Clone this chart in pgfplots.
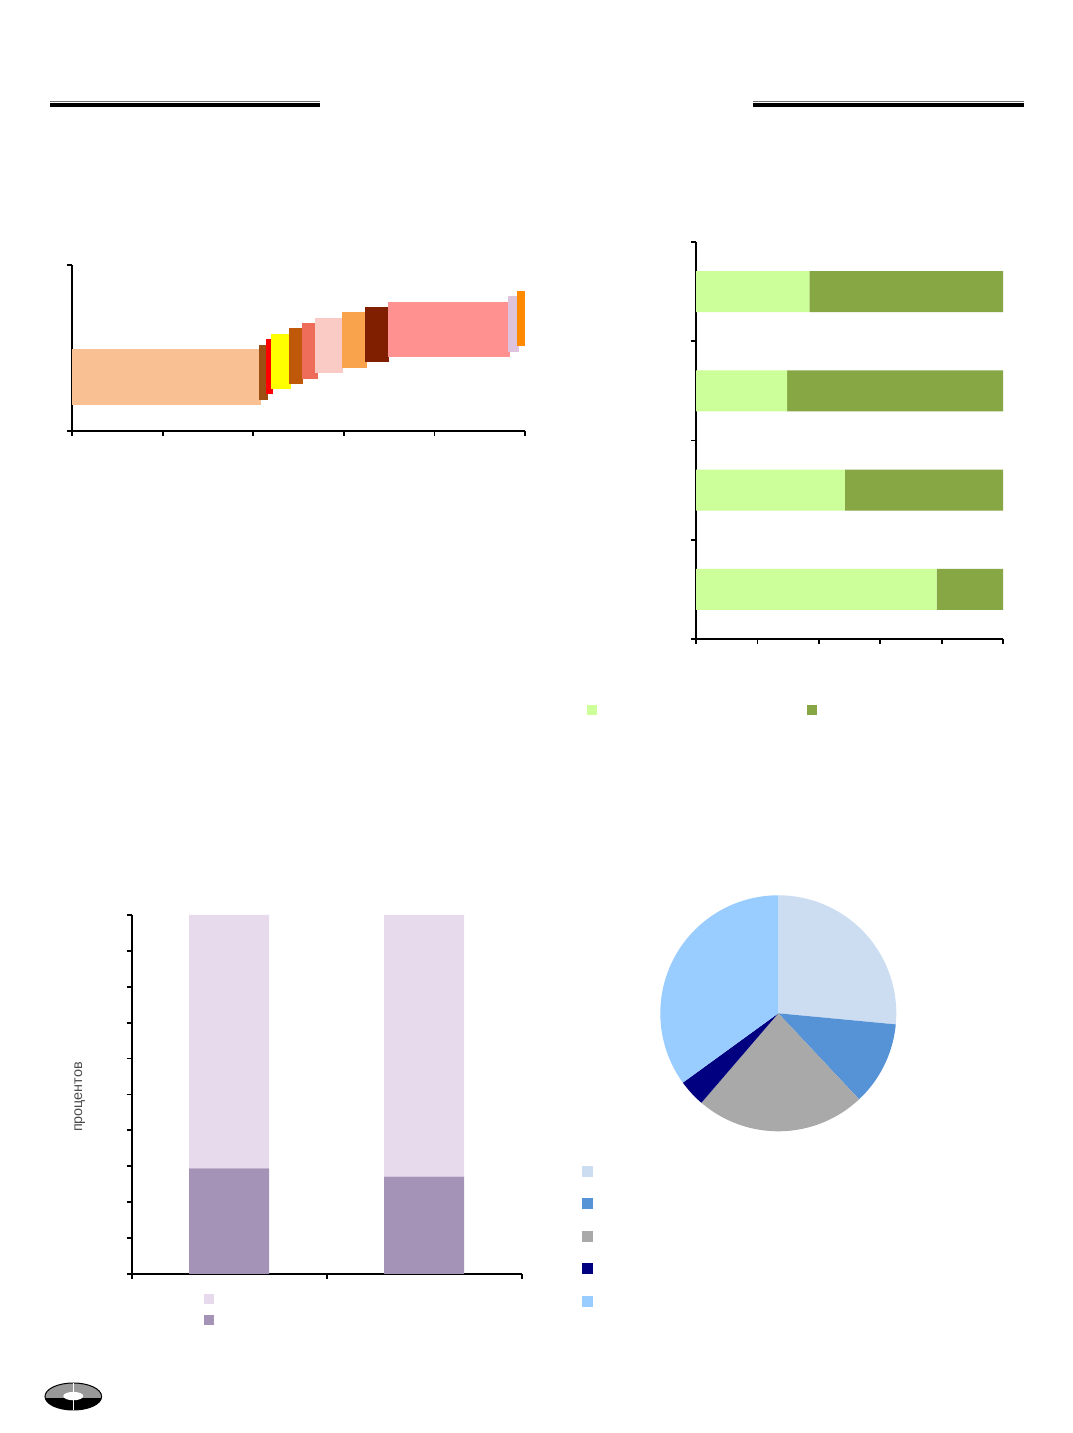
\documentclass[border=0pt]{standalone}
\usepackage{fontspec}
\setmainfont{Liberation Sans}
\usepackage{pgfplots}
\pgfplotsset{compat=1.18}
\definecolor{cA}{HTML}{F9C193}
\definecolor{cB}{HTML}{9C4F12}
\definecolor{cC}{HTML}{FF0000}
\definecolor{cD}{HTML}{FFFF00}
\definecolor{cE}{HTML}{C0580A}
\definecolor{cF}{HTML}{EE6D5A}
\definecolor{cG}{HTML}{FACBC5}
\definecolor{cH}{HTML}{F9A44C}
\definecolor{cI}{HTML}{7F1F00}
\definecolor{cJ}{HTML}{FF9191}
\definecolor{cK}{HTML}{DDC4DC}
\definecolor{cL}{HTML}{FF8A00}
\definecolor{gLight}{HTML}{CCFF99}
\definecolor{gDark}{HTML}{86A744}
\definecolor{pLight}{HTML}{E6DAEC}
\definecolor{pDark}{HTML}{A492B7}
\definecolor{pieA}{HTML}{CCDDF2}
\definecolor{pieB}{HTML}{5592D6}
\definecolor{pieC}{HTML}{A9A9A9}
\definecolor{pieD}{HTML}{000080}
\definecolor{pieE}{HTML}{99CCFF}
\pgfplotsset{
  myaxis/.style={
    scale only axis,
    axis x line*=bottom, axis y line*=left,
    axis line style={line width=1pt, black},
    tick align=outside, major tick length=2.6pt,
    every tick/.style={black, line width=0.9pt},
    xticklabels={}, yticklabels={},
    enlargelimits=false,
  }
}
\begin{document}
\begin{tikzpicture}
\useasboundingbox (0,0) rectangle (536pt,716.5pt);
\fill[white] (0,0) rectangle (536pt,716.5pt);
% header rules
\draw[black!55, line width=0.6pt] (25pt,665.9pt) -- (160pt,665.9pt);
\draw[black, line width=1.6pt] (25pt,664pt) -- (160pt,664pt);
\draw[black!55, line width=0.6pt] (376.5pt,665.9pt) -- (512pt,665.9pt);
\draw[black, line width=1.6pt] (376.5pt,664pt) -- (512pt,664pt);

% ---------- chart 1: variable width floating bars ----------
\begin{axis}[myaxis, at={(36pt,501pt)}, anchor=south west,
  width=226.5pt, height=83pt,
  xmin=0, xmax=100, ymin=0, ymax=100,
  xtick={0,20,40,60,80,100}, ytick={0,100}]
\addplot[fill=cA, draw=none] coordinates {(0,15.5) (41.7,15.5) (41.7,49.2) (0,49.2)} -- cycle;
\addplot[fill=cB, draw=none] coordinates {(41.3,18.7) (43.2,18.7) (43.2,52.0) (41.3,52.0)} -- cycle;
\addplot[fill=cC, draw=none] coordinates {(42.8,22.1) (44.3,22.1) (44.3,55.2) (42.8,55.2)} -- cycle;
\addplot[fill=cD, draw=none] coordinates {(43.9,25.1) (48.3,25.1) (48.3,58.6) (43.9,58.6)} -- cycle;
\addplot[fill=cE, draw=none] coordinates {(48.0,28.3) (51.1,28.3) (51.1,61.9) (48.0,61.9)} -- cycle;
\addplot[fill=cF, draw=none] coordinates {(50.7,31.5) (54.2,31.5) (54.2,65.2) (50.7,65.2)} -- cycle;
\addplot[fill=cG, draw=none] coordinates {(53.7,34.9) (59.9,34.9) (59.9,68.3) (53.7,68.3)} -- cycle;
\addplot[fill=cH, draw=none] coordinates {(59.5,38.1) (65.1,38.1) (65.1,71.7) (59.5,71.7)} -- cycle;
\addplot[fill=cI, draw=none] coordinates {(64.7,41.4) (70.0,41.4) (70.0,74.9) (64.7,74.9)} -- cycle;
\addplot[fill=cJ, draw=none] coordinates {(69.7,44.8) (96.7,44.8) (96.7,77.7) (69.7,77.7)} -- cycle;
\addplot[fill=cK, draw=none] coordinates {(96.3,47.8) (98.7,47.8) (98.7,81.3) (96.3,81.3)} -- cycle;
\addplot[fill=cL, draw=none] coordinates {(98.2,51.0) (100,51.0) (100,84.3) (98.2,84.3)} -- cycle;
\end{axis}

% ---------- chart 2: 100% horizontal stacked bars ----------
\begin{axis}[myaxis, at={(348pt,397pt)}, anchor=south west,
  width=153.5pt, height=198.5pt,
  xbar stacked, bar width=20.6pt,
  xmin=0, xmax=100, ymin=0.5, ymax=4.5,
  xtick={0,20,40,60,80,100}, ytick={0.5,1.5,2.5,3.5,4.5},
  legend columns=2,
  legend image code/.code={\fill[#1] (0pt,-2.5pt) rectangle (5pt,2.5pt);},
  legend style={at={(-0.355,-0.179)}, anchor=west, draw=none, fill=none,
    inner sep=0pt, column sep=0pt, nodes={inner sep=0pt}}]
\addplot[fill=gLight, draw=none] coordinates {(78.4,1) (48.5,2) (29.7,3) (36.9,4)};
\addlegendentry{\hspace*{105pt}}
\addplot[fill=gDark, draw=none] coordinates {(21.6,1) (51.5,2) (70.3,3) (63.1,4)};
\addlegendentry{}
\end{axis}

% ---------- chart 3: stacked columns ----------
\begin{axis}[myaxis, at={(65.85pt,79.5pt)}, anchor=south west,
  width=195pt, height=179.5pt,
  ybar stacked, bar width=40pt,
  xmin=0, xmax=2, ymin=0, ymax=100,
  xtick={0,1,2}, ytick={0,10,...,100},
  ylabel={процентов},
  ylabel style={at={(axis description cs:-0.133,0.493)}, anchor=center,
    font=\fontsize{7.2}{8}\selectfont, text=black!70},
  reverse legend,
  legend image code/.code={\fill[#1] (0pt,-2.5pt) rectangle (5pt,2.5pt);},
  legend style={at={(0.185,-0.0557)}, anchor=north west, draw=none, fill=none,
    inner sep=0pt, row sep=5.5pt, nodes={inner sep=0pt}}]
\addplot[fill=pDark, draw=none] coordinates {(0.5,29.4) (1.5,27.1)};
\addlegendentry{}
\addplot[fill=pLight, draw=none] coordinates {(0.5,70.6) (1.5,72.9)};
\addlegendentry{}
\end{axis}

% ---------- chart 4: pie (shares 26.5, 11.5, 23.3, 3.7, 35.0 %) ----------
\begin{axis}[at={(389.15pt,209.85pt)}, anchor=center,
  scale only axis, width=118pt, height=118pt, hide axis,
  xmin=-1, xmax=1, ymin=-1, ymax=1,
  legend image code/.code={\fill[#1] (0pt,-2.75pt) rectangle (5.5pt,2.75pt);},
  legend style={at={(-0.334,-0.145)}, anchor=north west, draw=none, fill=none,
    inner sep=0pt, row sep=10.75pt, nodes={inner sep=0pt}}]
\addplot[fill=pieA, draw=none, domain=-5.4:90, samples=60, variable=\t] ({cos(\t)},{sin(\t)}) -- (axis cs:0,0) -- cycle;
\addlegendentry{}
\addplot[fill=pieB, draw=none, domain=-46.8:-5.4, samples=40, variable=\t] ({cos(\t)},{sin(\t)}) -- (axis cs:0,0) -- cycle;
\addlegendentry{}
\addplot[fill=pieC, draw=none, domain=-130.68:-46.8, samples=60, variable=\t] ({cos(\t)},{sin(\t)}) -- (axis cs:0,0) -- cycle;
\addlegendentry{}
\addplot[fill=pieD, draw=none, domain=-144:-130.68, samples=20, variable=\t] ({cos(\t)},{sin(\t)}) -- (axis cs:0,0) -- cycle;
\addlegendentry{}
\addplot[fill=pieE, draw=none, domain=-270:-144, samples=80, variable=\t] ({cos(\t)},{sin(\t)}) -- (axis cs:0,0) -- cycle;
\addlegendentry{}
\end{axis}

% ---------- logo ----------
\begin{scope}[shift={(36.65pt,18.25pt)}]
\fill[black] (0,0) ellipse [x radius=14.15pt, y radius=6.75pt];
\begin{scope}
\clip (-15pt,-0.6pt) rectangle (15pt,8pt);
\fill[black!40] (0,0) ellipse [x radius=14.15pt, y radius=6.75pt];
\end{scope}
\draw[black, line width=0.5pt] (0,0) ellipse [x radius=14.15pt, y radius=6.75pt];
\fill[white] (0,0.2pt) ellipse [x radius=5pt, y radius=2.1pt];
\draw[white, line width=0.5pt] (0,-6.75pt) -- (0,6.75pt);
\end{scope}
\end{tikzpicture}
\end{document}
